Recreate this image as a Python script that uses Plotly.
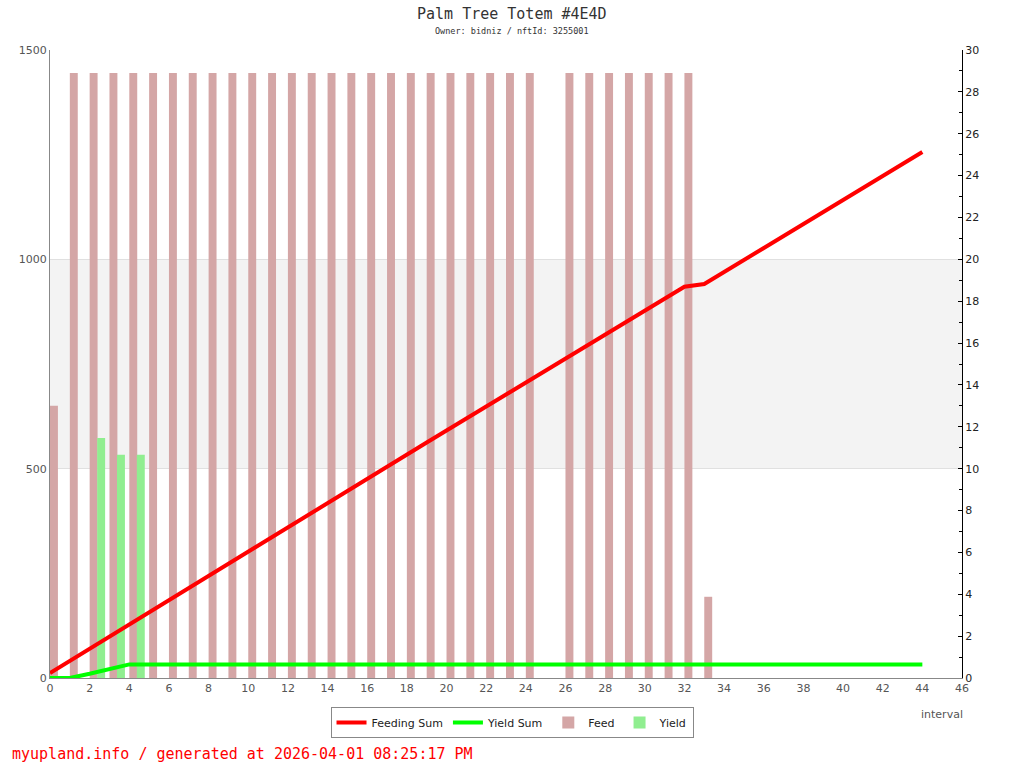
import plotly.graph_objects as go

# ---- data ----
intervals = list(range(0, 45))
feed_x = [0, 1, 2, 3, 4, 5, 6, 7, 8, 9, 10, 11, 12, 13, 14, 15, 16, 17, 18, 19, 20,
          21, 22, 23, 24, 26, 27, 28, 29, 30, 31, 32, 33]
feed_y = [650] + [1445] * 24 + [1445] * 7 + [194]
yield_x = [2, 3, 4]
yield_y = [573, 533, 533]
feeding_sum = [0.24, 0.82, 1.40, 1.98, 2.56, 3.14, 3.72, 4.30, 4.88, 5.46, 6.04, 6.62,
               7.24, 7.81, 8.38, 8.96, 9.53, 10.10, 10.67, 11.25, 11.82, 12.39, 12.96,
               13.54, 14.11, 14.68, 15.25, 15.83, 16.40, 16.97, 17.54, 18.12, 18.69,
               18.82, 19.39, 19.96, 20.54, 21.11, 21.68, 22.26, 22.83, 23.40, 23.98,
               24.55, 25.13]
yield_sum = [0, 0, 0.20, 0.43, 0.65] + [0.65] * 40
x_ticks = list(range(0, 47, 2))
title = "Palm Tree Totem #4E4D"
subtitle = "Owner: bidniz / nftId: 3255001"
footer = "myupland.info / generated at 2026-04-01 08:25:17 PM"

FONT = "DejaVu Sans"
MONO = "DejaVu Sans Mono"

fig = go.Figure()
fig.add_trace(go.Bar(x=feed_x, y=feed_y, name="Feed", offset=0, width=0.4,
                     marker=dict(color="#d4a6a6", line=dict(width=0)), yaxis="y"))
fig.add_trace(go.Bar(x=yield_x, y=yield_y, name="Yield", offset=0.38, width=0.4,
                     marker=dict(color="#90ee90", line=dict(width=0)), yaxis="y"))
fig.add_trace(go.Scatter(x=intervals, y=feeding_sum, name="Feeding Sum", mode="lines",
                         line=dict(color="#ff0000", width=4), yaxis="y2"))
fig.add_trace(go.Scatter(x=intervals, y=yield_sum, name="Yield Sum", mode="lines",
                         line=dict(color="#00ff00", width=4), yaxis="y2"))

fig.update_layout(
    width=1024, height=768,
    margin=dict(l=50, r=62, t=50, b=90, autoexpand=False),
    paper_bgcolor="white", plot_bgcolor="white",
    barmode="overlay",
    font=dict(family=FONT, size=11, color="#444"),
    xaxis=dict(range=[0, 46], tickvals=x_ticks, showgrid=False, zeroline=False,
               showline=True, linecolor="#888", linewidth=1, ticks="",
               tickfont=dict(size=11, color="#555")),
    yaxis=dict(range=[0, 1500], tickvals=[0, 500, 1000, 1500], showgrid=True,
               gridcolor="#e0e0e0", gridwidth=1, zeroline=False, showline=True,
               linecolor="#888", linewidth=1, ticks="",
               tickfont=dict(size=11, color="#555")),
    yaxis2=dict(range=[0, 30], overlaying="y", side="right", tickvals=list(range(0, 31, 2)),
                showgrid=False, zeroline=False, showline=True, linecolor="black",
                linewidth=1, ticks="inside", ticklen=4, tickcolor="black",
                minor=dict(dtick=1, ticks="inside", ticklen=3, tickcolor="black"),
                tickfont=dict(size=11, color="#222")),
    legend=dict(orientation="h", x=0.5066, xanchor="center", y=-0.046, yanchor="top",
                bordercolor="#888", borderwidth=1, bgcolor="white",
                font=dict(size=11, color="#222"), itemwidth=30,
                traceorder="normal"),
    shapes=[dict(type="rect", xref="paper", yref="y", x0=0, x1=1, y0=500, y1=1000,
                 fillcolor="#f3f3f3", line=dict(width=0), layer="below")],
    annotations=[
        dict(text=title, xref="paper", yref="paper", x=(512 - 50) / 912, y=1 + (50 - 14) / 628,
             xanchor="center", yanchor="middle", showarrow=False,
             font=dict(family=MONO, size=15, color="#333")),
        dict(text=subtitle, xref="paper", yref="paper", x=(512 - 50) / 912, y=1 + (50 - 31) / 628,
             xanchor="center", yanchor="middle", showarrow=False,
             font=dict(family=MONO, size=8.5, color="#333")),
        dict(text="interval", xref="paper", yref="paper", x=(942 - 50) / 912, y=(678 - 714) / 628,
             xanchor="center", yanchor="middle", showarrow=False,
             font=dict(family=FONT, size=11, color="#555")),
        dict(text=footer, xref="paper", yref="paper", x=(10 - 50) / 912, y=(678 - 754) / 628,
             xanchor="left", yanchor="middle", showarrow=False,
             font=dict(family=MONO, size=15, color="#ff0000")),
    ],
)

# legend order: Feeding Sum, Yield Sum, Feed, Yield
fig.data[2].legendrank = 1
fig.data[3].legendrank = 2
fig.data[0].legendrank = 3
fig.data[1].legendrank = 4

fig.write_html("out.html", config={"displayModeBar": False},
               post_script="document.body.style.margin='0px';document.body.style.overflow='hidden';")
